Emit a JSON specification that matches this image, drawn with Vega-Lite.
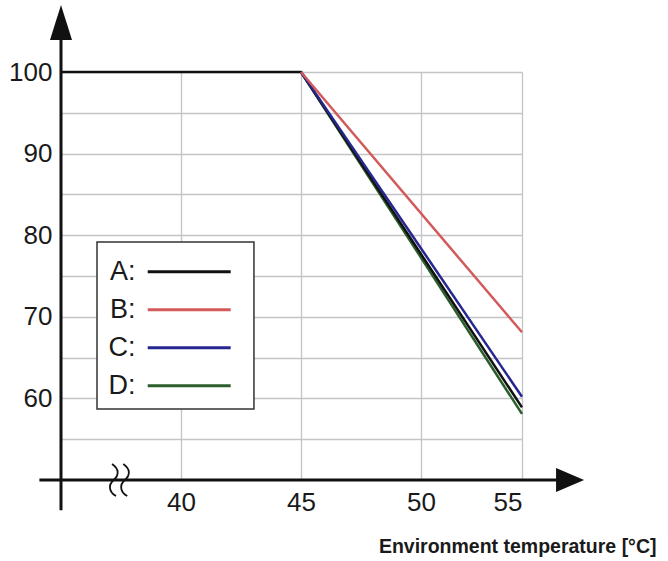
{
  "$schema": "https://vega.github.io/schema/vega-lite/v6.json",
  "autosize": "none",
  "width": 461,
  "height": 408,
  "padding": {"left": 61, "top": 72, "right": 146, "bottom": 81},
  "background": "white",
  "config": {
    "view": {"stroke": null},
    "font": "Liberation Sans, Arial",
    "axis": {
      "domain": false,
      "ticks": false,
      "grid": true,
      "gridColor": "#c4c4c8",
      "gridWidth": 1.3,
      "labelFont": "Liberation Sans, Arial",
      "labelFontSize": 26,
      "labelColor": "#1a1a1a"
    }
  },
  "layer": [
    {
      "data": {"values": [{}]},
      "mark": {"type": "rect", "fill": "white", "stroke": "#333333", "strokeWidth": 1.5},
      "encoding": {
        "x": {"datum": 36.5, "type": "quantitative"},
        "x2": {"datum": 43.04},
        "y": {"datum": 79.17, "type": "quantitative"},
        "y2": {"datum": 58.7}
      }
    },
    {
      "data": {
        "values": [
          {"series": "D", "temp": 45, "value": 100},
          {"series": "D", "temp": 55, "value": 58.1},
          {"series": "A", "temp": 35, "value": 100},
          {"series": "A", "temp": 45, "value": 100},
          {"series": "A", "temp": 55, "value": 58.9},
          {"series": "C", "temp": 45, "value": 100},
          {"series": "C", "temp": 55, "value": 60.2},
          {"series": "B", "temp": 45, "value": 100},
          {"series": "B", "temp": 55, "value": 68.1}
        ]
      },
      "mark": {"type": "line", "strokeWidth": 2.5},
      "encoding": {
        "x": {
          "field": "temp",
          "type": "quantitative",
          "scale": {"domain": [35, 40, 45, 50, 55], "range": [0, 120, 240, 360, 461], "nice": false, "zero": false},
          "axis": {
            "values": [40, 45, 50, 55],
            "labelPadding": 9,
            "title": "Environment temperature [°C]",
            "titleFont": "Liberation Sans, Arial",
            "titleFontSize": 19.5,
            "titleFontWeight": "bold",
            "titleColor": "#1a1a1a",
            "titleX": 595,
            "titleY": 72,
            "titleAlign": "right",
            "titleBaseline": "alphabetic",
            "titleAnchor": null
          }
        },
        "y": {
          "field": "value",
          "type": "quantitative",
          "scale": {"domain": [50, 100], "nice": false, "zero": false},
          "axis": {
            "values": [55, 60, 65, 70, 75, 80, 85, 90, 95, 100],
            "labelExpr": "datum.value % 10 == 0 ? datum.label : ''",
            "labelPadding": 9,
            "title": null
          }
        },
        "color": {
          "field": "series",
          "type": "nominal",
          "scale": {"domain": ["A", "B", "C", "D"], "range": ["#111111", "#d25a5a", "#262690", "#2a5e2a"]},
          "legend": {
            "orient": "none",
            "legendX": 103.7,
            "legendY": 175.2,
            "title": null,
            "padding": 0,
            "symbolType": "M-1.82,0H1.82",
            "symbolSize": 2079,
            "symbolStrokeWidth": 3,
            "labelExpr": "datum.label + ':'",
            "labelFont": "Liberation Sans, Arial",
            "labelFontSize": 27,
            "labelColor": "#1a1a1a",
            "labelAlign": "right",
            "labelOffset": -78.3,
            "rowPadding": 0
          }
        }
      }
    },
    {
      "data": {"values": [{}]},
      "mark": {"type": "rule", "strokeWidth": 3, "color": "#111111", "clip": false},
      "encoding": {
        "x": {"datum": 35, "type": "quantitative"},
        "y": {"datum": 46.3, "type": "quantitative"},
        "y2": {"datum": 104.2}
      }
    },
    {
      "data": {"values": [{}]},
      "mark": {"type": "rule", "strokeWidth": 3, "color": "#111111", "clip": false},
      "encoding": {
        "y": {"datum": 50, "type": "quantitative"},
        "x": {"datum": 34.1, "type": "quantitative"},
        "x2": {"datum": 57}
      }
    },
    {
      "data": {"values": [{}]},
      "mark": {"type": "point", "shape": "M0,-1L0.63,1L-0.63,1Z", "filled": true, "size": 1225, "color": "#111111", "opacity": 1, "clip": false},
      "encoding": {
        "x": {"datum": 35, "type": "quantitative"},
        "y": {"datum": 106.07, "type": "quantitative"}
      }
    },
    {
      "data": {"values": [{}]},
      "mark": {"type": "point", "shape": "M1,0L-1,-0.86L-1,0.86Z", "filled": true, "size": 784, "color": "#111111", "opacity": 1, "clip": false},
      "encoding": {
        "x": {"datum": 57.38, "type": "quantitative"},
        "y": {"datum": 50, "type": "quantitative"}
      }
    },
    {
      "data": {"values": [{}]},
      "mark": {"type": "point", "shape": "M-0.5,-1C-0.05,-0.7,-0.05,-0.3,-0.4,0S-0.7,0.75,-0.25,1M0.2,-1C0.65,-0.7,0.65,-0.3,0.3,0S0,0.75,0.45,1", "filled": false, "size": 1024, "stroke": "#111111", "strokeWidth": 1.8, "opacity": 1, "clip": false},
      "encoding": {
        "x": {"datum": 37.46, "type": "quantitative"},
        "y": {"datum": 50, "type": "quantitative"}
      }
    }
  ]
}
